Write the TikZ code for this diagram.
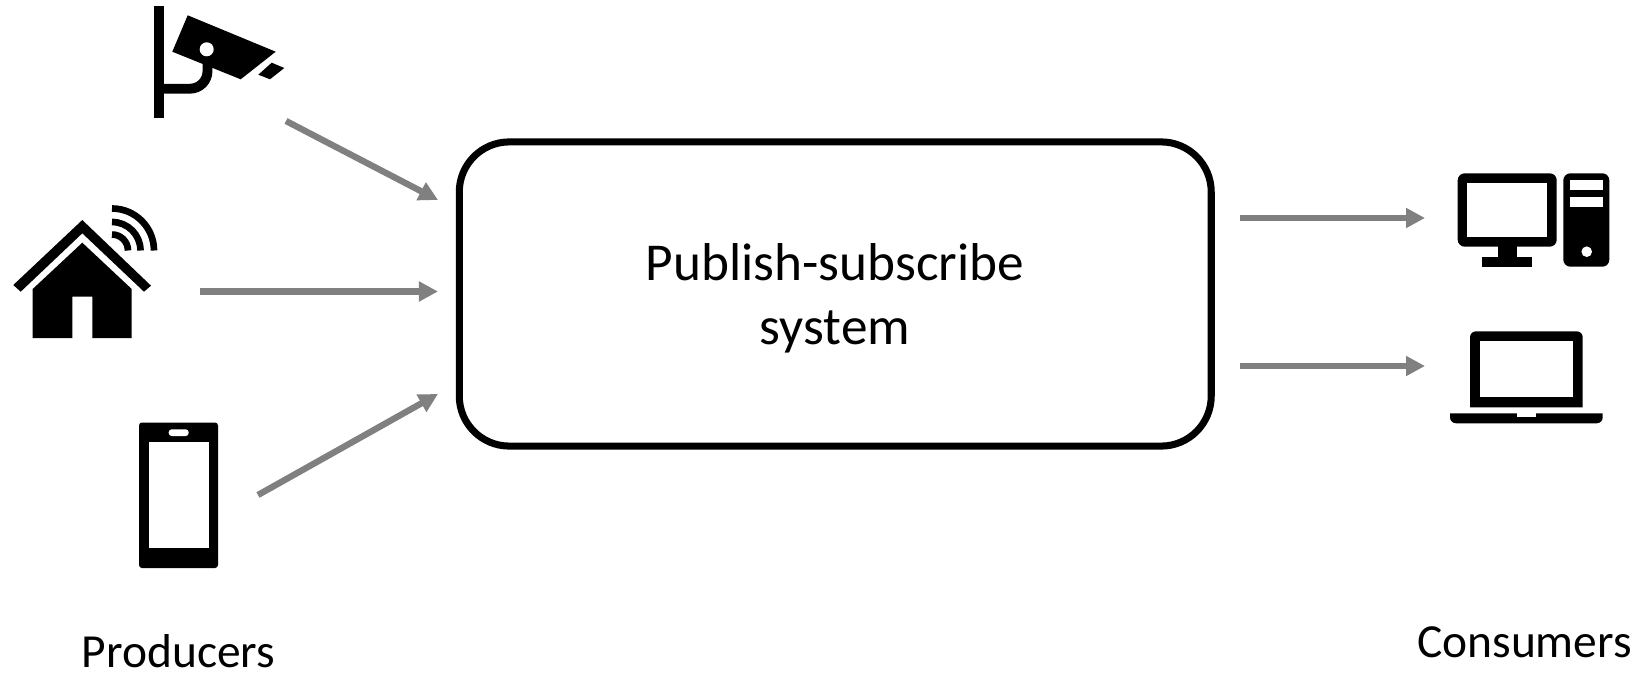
\documentclass[tikz,border=0pt]{standalone}
\usepackage{fontspec}
\setmainfont{Carlito}
\usetikzlibrary{arrows.meta}
\tikzset{
  sysbox/.style={draw,line width=2pt,rounded corners=0.5cm,minimum width=7.515cm,minimum height=3.04cm,inner sep=0pt},
  flow/.style={draw=black!50,line width=1.8pt,-{Triangle[length=0.19cm,width=0.19cm,fill=black!50]}},
  label/.style={anchor=base,inner sep=0pt,font=\fontsize{13.5}{18.2}\selectfont},
  solid/.style={fill=black,draw=none},
  cutout/.style={fill=white,draw=none}
}
\begin{document}
\begin{tikzpicture}[x=0.01cm,y=-0.01cm]
\useasboundingbox (0,0) rectangle (1640,673);

\node[sysbox] (system) at (835.25,294) {};
\node[label,align=center,font=\fontsize{15.15}{18.2}\selectfont] (systemtext) at (835,344) {Publish-subscribe\\system};
\node[label] (producers) at (178.5,667) {Producers};
\node[label] (consumers) at (1524.5,657) {Consumers};

% camera
\fill[solid] (154,6) rectangle (164.3,118);
\fill[solid] (187.7,15.3) -- (275.7,51.7) -- (240.7,79.3) -- (172.3,51.7) -- cycle;
\fill[solid] (271.7,62.7) -- (284.3,68) -- (270,79.3) -- (258.3,74.7) -- cycle;
\draw[line width=2.8pt] (164,88.7) -- (190,88.7) arc[start angle=90,end angle=0,radius=17.5] -- (207.5,60);
\fill[cutout] (206.7,49.3) circle[radius=7];

% house
\fill[solid] (82.3,220) -- (151,285.7) -- (144,291.7) -- (82.3,233.3) -- (20.7,291.7) -- (13.3,285) -- cycle;
\fill[solid] (32.7,289) -- (82.3,242.7) -- (131.7,289) -- (131.7,338) -- (92.3,338) -- (92.3,296.7)
  -- (72.3,296.7) -- (72.3,338) -- (32.7,338) -- cycle;
\foreach \r in {16,28.5,42}
  \draw[line width=1.9pt] (112,250.5-\r) arc[start angle=-90,end angle=0,radius=\r];

% phone
\fill[solid,rounded corners=0.03cm] (139,422.5) rectangle (218,568);
\fill[cutout] (148.7,442.3) rectangle (208.7,548);
\fill[cutout,rounded corners=0.03cm] (168.7,429.3) rectangle (188.7,436);

% desktop
\fill[solid,rounded corners=0.07cm] (1457.7,173.3) rectangle (1556.7,246.7);
\fill[cutout] (1467.3,183) rectangle (1547.3,236.7);
\fill[solid] (1497.7,246) rectangle (1517.3,257);
\fill[solid] (1482.3,256.7) rectangle (1532.3,266.7);
\fill[solid,rounded corners=0.07cm] (1563.3,173.3) rectangle (1609.3,266.7);
\fill[cutout] (1570,180) rectangle (1603,190);
\fill[cutout] (1570,196.7) rectangle (1603,206.7);
\fill[cutout] (1586.7,251.7) circle[radius=5.3];

% laptop
\fill[solid] (1470,407.3) [rounded corners=0.06cm] -- (1470,331.3) -- (1582.7,331.3) [sharp corners] -- (1582.7,407.3) -- cycle;
\fill[cutout] (1480,341) rectangle (1572.7,397.3);
\fill[solid] (1450,413.3) -- (1602.7,413.3) [rounded corners=0.06cm] -- (1602.7,423.3) -- (1450,423.3) [sharp corners] -- cycle;
\fill[cutout] (1516.7,413) rectangle (1536,416.7);

\coordinate (camout) at (286,121);
\coordinate (camin) at (438,200);
\coordinate (homeout) at (200,291.5);
\coordinate (homein) at (438,291.5);
\coordinate (phoneout) at (258,495);
\coordinate (phonein) at (438,394);
\coordinate (deskfrom) at (1240,218);
\coordinate (deskto) at (1425,218);
\coordinate (lapfrom) at (1240,366);
\coordinate (lapto) at (1425,366);

\draw[flow] (camout) -- (camin);
\draw[flow] (homeout) -- (homein);
\draw[flow] (phoneout) -- (phonein);
\draw[flow] (deskfrom) -- (deskto);
\draw[flow] (lapfrom) -- (lapto);
\end{tikzpicture}
\end{document}
